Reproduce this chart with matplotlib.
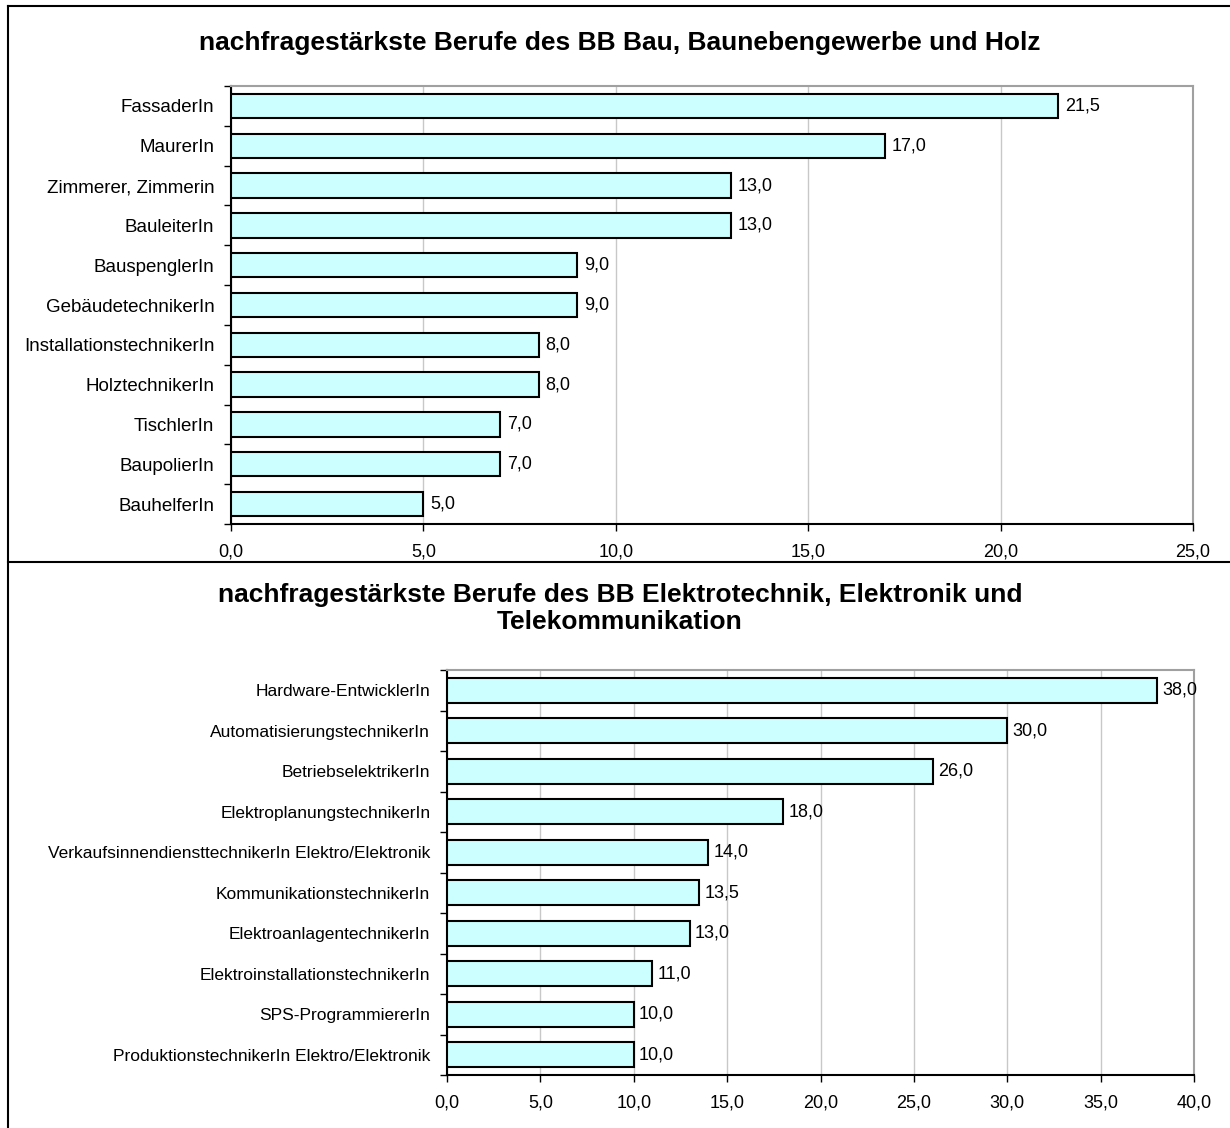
import matplotlib.pyplot as plt
from matplotlib.lines import Line2D

plt.rcParams['font.family'] = ['Liberation Sans', 'DejaVu Sans']

# data
bau_berufe = ["FassaderIn", "MaurerIn", "Zimmerer, Zimmerin", "BauleiterIn",
              "BauspenglerIn", "GebäudetechnikerIn", "InstallationstechnikerIn",
              "HolztechnikerIn", "TischlerIn", "BaupolierIn", "BauhelferIn"]
bau_werte = [21.5, 17.0, 13.0, 13.0, 9.0, 9.0, 8.0, 8.0, 7.0, 7.0, 5.0]

elektro_berufe = ["Hardware-EntwicklerIn", "AutomatisierungstechnikerIn",
                  "BetriebselektrikerIn", "ElektroplanungstechnikerIn",
                  "VerkaufsinnendiensttechnikerIn Elektro/Elektronik",
                  "KommunikationstechnikerIn", "ElektroanlagentechnikerIn",
                  "ElektroinstallationstechnikerIn", "SPS-ProgrammiererIn",
                  "ProduktionstechnikerIn Elektro/Elektronik"]
elektro_werte = [38.0, 30.0, 26.0, 18.0, 14.0, 13.5, 13.0, 11.0, 10.0, 10.0]

W, H = 1230, 1128
fig = plt.figure(figsize=(W / 100, H / 100), dpi=100)


def box(x0, y0, x1, y1):
    # pixel coords (top-left origin) -> figure fraction
    return [x0 / W, 1 - y1 / H, (x1 - x0) / W, (y1 - y0) / H]


def draw(ax, names, vals, xmax, step, fs_lab, fs_num):
    n = len(names)
    pos = list(range(n))
    ax.barh(pos, vals, height=0.61, color="#CCFFFF", edgecolor="black", linewidth=1.5, zorder=3)
    ax.set_ylim(n - 0.5, -0.5)
    ax.set_xlim(0, xmax)
    ax.set_yticks(pos)
    ax.set_yticklabels(names, fontsize=fs_lab)
    ax.tick_params(axis="y", length=0, pad=12)
    # excel style ticks between categories
    ax.set_yticks([i - 0.5 for i in range(n + 1)], minor=True)
    ax.tick_params(axis="y", which="minor", length=5, width=1)
    xt = [i * step for i in range(int(xmax / step) + 1)]
    ax.set_xticks(xt)
    ax.set_xticklabels([f"{t:.1f}".replace(".", ",") for t in xt], fontsize=fs_num)
    ax.tick_params(axis="x", length=5, width=1, pad=9)
    ax.xaxis.grid(True, color="#C8C8C8", linewidth=1, zorder=0)
    ax.set_axisbelow(True)
    for s in ["top", "right"]:
        ax.spines[s].set_color("#A0A0A0")
        ax.spines[s].set_linewidth(1.5)
    for s in ["left", "bottom"]:
        ax.spines[s].set_linewidth(1.5)
    for p, v in zip(pos, vals):
        ax.text(v + xmax * 0.007, p, f"{v:.1f}".replace(".", ","), va="center",
                ha="left", fontsize=fs_num, zorder=4)


ax1 = fig.add_axes(box(231, 86, 1193, 524))
draw(ax1, bau_berufe, bau_werte, 25, 5, 13.5, 13)

ax2 = fig.add_axes(box(447, 670, 1194, 1075))
draw(ax2, elektro_berufe, elektro_werte, 40, 5, 12.5, 13)

fig.text(620 / W, 1 - 43 / H, "nachfragestärkste Berufe des BB Bau, Baunebengewerbe und Holz",
         ha="center", va="center", fontsize=19, fontweight="bold")
fig.text(620 / W, 1 - 595 / H, "nachfragestärkste Berufe des BB Elektrotechnik, Elektronik und",
         ha="center", va="center", fontsize=19, fontweight="bold")
fig.text(620 / W, 1 - 622 / H, "Telekommunikation",
         ha="center", va="center", fontsize=19, fontweight="bold")

# chart frames
for xs, ys in [([8 / W, 1], [1 - 6 / H, 1 - 6 / H]),
               ([8 / W, 8 / W], [0, 1 - 6 / H]),
               ([8 / W, 1], [1 - 562 / H, 1 - 562 / H])]:
    fig.add_artist(Line2D(xs, ys, color="black", linewidth=1.5))

fig.savefig("out.png", dpi=100, facecolor="white")
